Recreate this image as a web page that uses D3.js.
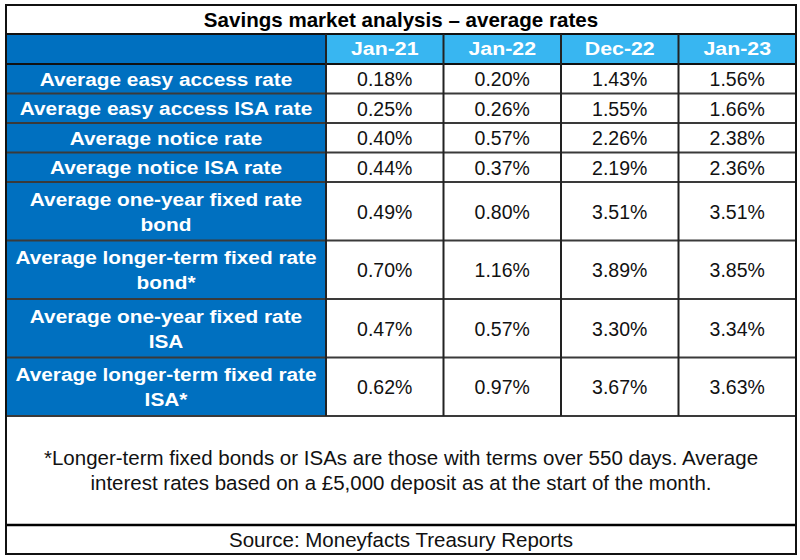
<!DOCTYPE html>
<html>
<head>
<meta charset="utf-8">
<script src="https://cdn.jsdelivr.net/npm/d3@7"></script>
<style>
  html, body { margin: 0; padding: 0; background: #fff; }
  svg { display: block; }
</style>
</head>
<body>
<svg id="chart" width="800" height="560"></svg>
<script>
// ---- Data ----
const title = "Savings market analysis \u2013 average rates";
const periods = ["Jan-21", "Jan-22", "Dec-22", "Jan-23"];
const rowLabels = [
  ["Average easy access rate"],
  ["Average easy access ISA rate"],
  ["Average notice rate"],
  ["Average notice ISA rate"],
  ["Average one-year fixed rate", "bond"],
  ["Average longer-term fixed rate", "bond*"],
  ["Average one-year fixed rate", "ISA"],
  ["Average longer-term fixed rate", "ISA*"]
];
const jan21 = [0.18, 0.25, 0.40, 0.44, 0.49, 0.70, 0.47, 0.62];
const jan22 = [0.20, 0.26, 0.57, 0.37, 0.80, 1.16, 0.57, 0.97];
const dec22 = [1.43, 1.55, 2.26, 2.19, 3.51, 3.89, 3.30, 3.67];
const jan23 = [1.56, 1.66, 2.38, 2.36, 3.51, 3.85, 3.34, 3.63];
const footnoteLines = [
  "*Longer-term fixed bonds or ISAs are those with terms over 550 days. Average",
  "interest rates based on a \u00A35,000 deposit as at the start of the month."
];
const source = "Source: Moneyfacts Treasury Reports";

(function () {
// ---- Layout ----
const svg = d3.select("#chart");
const left = 6, right = 796, tableTop = 5;
const labelW = 320;
const titleH = 29, headerH = 30, lineRowH = 29.5;
const footH = 109, sourceH = 29;
const blueDark = "#0070C0", blueLight = "#38B6F1";
const gridColor = "#3a3a3a";
const fontMain = "Arial, 'Liberation Sans', sans-serif";

const seriesList = [jan21, jan22, dec22, jan23];
const x = d3.scaleBand().domain(periods).range([left + labelW, right]);

const rowHeights = rowLabels.map(l => l.length === 1 ? lineRowH : 58.5);
const headerTop = tableTop + titleH;
const bodyTop = headerTop + headerH;
const rowTops = [];
let acc = bodyTop;
rowHeights.forEach(h => { rowTops.push(acc); acc += h; });
const bodyBottom = acc;
const footBottom = bodyBottom + footH;
const bottom = footBottom + sourceH;

function stretchText(sel, cx, y, sx) {
  return sel.attr("x", 0).attr("y", 0)
    .attr("transform", `translate(${cx},${y}) scale(${sx},1)`)
    .attr("text-anchor", "middle");
}

// Title row
stretchText(svg.append("text"), (left + right) / 2, tableTop + titleH / 2 + 7.3, 1.055)
  .attr("font-family", fontMain).attr("font-weight", "bold").attr("font-size", 19.5)
  .attr("fill", "#000").text(title);

// Header row
svg.append("rect").attr("x", left).attr("y", headerTop)
  .attr("width", labelW).attr("height", headerH).attr("fill", blueDark);
svg.selectAll("rect.hdr").data(periods).join("rect").attr("class", "hdr")
  .attr("x", d => x(d)).attr("y", headerTop)
  .attr("width", x.bandwidth()).attr("height", headerH).attr("fill", blueLight);
svg.selectAll("text.hdr").data(periods).join("text").attr("class", "hdr")
  .each(function (d) {
    stretchText(d3.select(this), x(d) + x.bandwidth() / 2, headerTop + headerH / 2 + 5.8, 1.14);
  })
  .attr("font-family", fontMain).attr("font-weight", "bold").attr("font-size", 18.7)
  .attr("fill", "#fff").text(d => d);

// Body rows
const rows = svg.selectAll("g.row").data(rowLabels).join("g").attr("class", "row")
  .attr("transform", (d, i) => `translate(0,${rowTops[i]})`);
rows.append("rect").attr("x", left).attr("y", 0)
  .attr("width", labelW).attr("height", (d, i) => rowHeights[i]).attr("fill", blueDark);
rows.each(function (lines, i) {
  const g = d3.select(this);
  const h = rowHeights[i];
  const lh = 25;
  const start = h / 2 - (lines.length - 1) * lh / 2;
  lines.forEach((ln, k) => {
    stretchText(g.append("text"), left + labelW / 2, start + k * lh + 7.2, 1.12)
      .attr("font-family", fontMain).attr("font-weight", "bold").attr("font-size", 18.6)
      .attr("fill", "#fff").text(ln);
  });
  periods.forEach((p, j) => {
    g.append("text")
      .attr("x", x(p) + x.bandwidth() / 2).attr("y", h / 2 + 7.3)
      .attr("text-anchor", "middle")
      .attr("font-family", fontMain).attr("font-size", 19.5)
      .attr("fill", "#111").text(d3.format(".2f")(seriesList[j][i]) + "%");
  });
});

// Grid lines: horizontal
const hLines = [headerTop, bodyTop].concat(rowTops.slice(1), [bodyBottom]);
svg.selectAll("line.h").data(hLines).join("line").attr("class", "h")
  .attr("x1", left).attr("x2", right).attr("y1", d => d).attr("y2", d => d)
  .attr("stroke", (d, i) => i < 2 ? "#111" : gridColor)
  .attr("stroke-width", (d, i) => i < 2 ? 2 : 1.8);
// vertical lines in header+body
svg.selectAll("line.v").data(periods).join("line").attr("class", "v")
  .attr("x1", d => x(d)).attr("x2", d => x(d)).attr("y1", headerTop).attr("y2", bodyBottom)
  .attr("stroke", "#222").attr("stroke-width", 2);
// footnote / source separator
svg.append("line").attr("x1", left).attr("x2", right)
  .attr("y1", footBottom).attr("y2", footBottom)
  .attr("stroke", "#000").attr("stroke-width", 2.5);

// Footnote
svg.selectAll("text.foot").data(footnoteLines).join("text").attr("class", "foot")
  .attr("x", (left + right) / 2)
  .attr("y", (d, i) => bodyBottom + footH / 2 - 12.5 + i * 25 + 7)
  .attr("text-anchor", "middle")
  .attr("font-family", fontMain)
  .attr("font-size", 20.5).attr("fill", "#111").text(d => d);

// Source
svg.append("text")
  .attr("x", (left + right) / 2).attr("y", footBottom + sourceH / 2 + 7)
  .attr("text-anchor", "middle")
  .attr("font-family", fontMain)
  .attr("font-size", 20.5).attr("fill", "#111").text(source);

// Outer border
svg.append("rect").attr("x", left).attr("y", tableTop)
  .attr("width", right - left).attr("height", bottom - tableTop)
  .attr("fill", "none").attr("stroke", "#111").attr("stroke-width", 2);
})();
</script>
</body>
</html>
